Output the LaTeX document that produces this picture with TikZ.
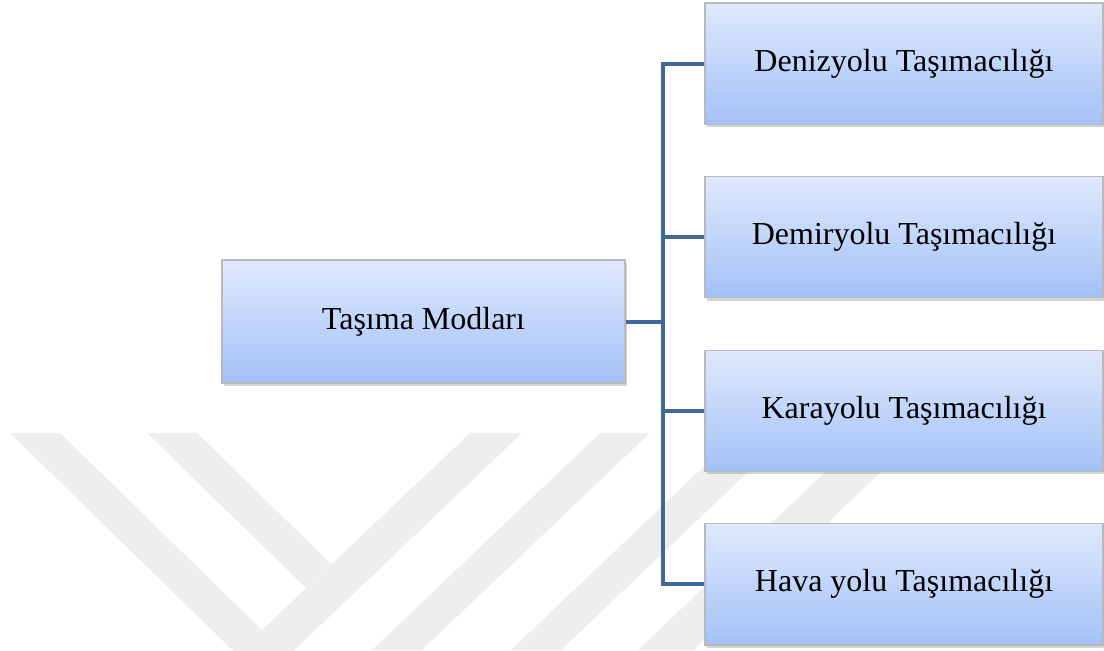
\documentclass[tikz,border=0pt]{standalone}
\usepackage{fontspec}
\setmainfont{Liberation Serif}
\usetikzlibrary{positioning,shadows}

\definecolor{boxtop}{RGB}{223,233,253}
\definecolor{boxbot}{RGB}{163,193,248}
\definecolor{linkblue}{RGB}{64,103,153}
\definecolor{wmark}{RGB}{238,238,238}

\begin{document}
\begin{tikzpicture}[x=0.5pt,y=-0.5pt,node distance=25.6pt,font=\fontsize{16}{19}\selectfont]
  \tikzstyle{modebox}=[rectangle,draw=gray!55,line width=0.6pt,top color=boxtop,bottom color=boxbot,
                       minimum width=199pt,minimum height=60.6pt,
                       drop shadow={shadow xshift=1pt,shadow yshift=-1.5pt,opacity=0.35}]
  \tikzstyle{link}=[draw=linkblue,line width=2pt]
  \tikzstyle{elbow}=[to path={|- (\tikztotarget)}]

  \useasboundingbox (0,0) rectangle (1104,650);

  % faint watermark behind the chart
  \begin{scope}
    \clip (0,0) rectangle (1104,650);
    \fill[wmark] (10,433) -- (60,433) -- (262,630) -- (470,433) -- (522,433) -- (263,680) -- cycle;
    \fill[wmark] (147,433) -- (197,433) -- (331,564) -- (306,588) -- cycle;
    \fill[wmark] (600,433) -- (650,433) -- (422,650) -- (372,650) -- cycle;
    \fill[wmark] (739,433) -- (789,433) -- (561,650) -- (511,650) -- cycle;
    \fill[wmark] (866,433) -- (922,433) -- (694,650) -- (638,650) -- cycle;
  \end{scope}

  \node[modebox,minimum width=201.5pt,minimum height=61.5pt] (modes) at (423.5,321.5) {Taşıma Modları};
  \node[modebox] (deniz) at (904,63.5)    {Denizyolu Taşımacılığı};
  \node[modebox] (demir) [below=of deniz] {Demiryolu Taşımacılığı};
  \node[modebox] (kara)  [below=of demir] {Karayolu Taşımacılığı};
  \node[modebox] (hava)  [below=of kara]  {Hava yolu Taşımacılığı};
  \coordinate (hub) at (663,321.5);

  \path[link]
    (modes) edge (hub)
    (hub) edge [elbow] (deniz)
          edge [elbow] (demir)
          edge [elbow] (kara)
          edge [elbow] (hava);
\end{tikzpicture}
\end{document}
